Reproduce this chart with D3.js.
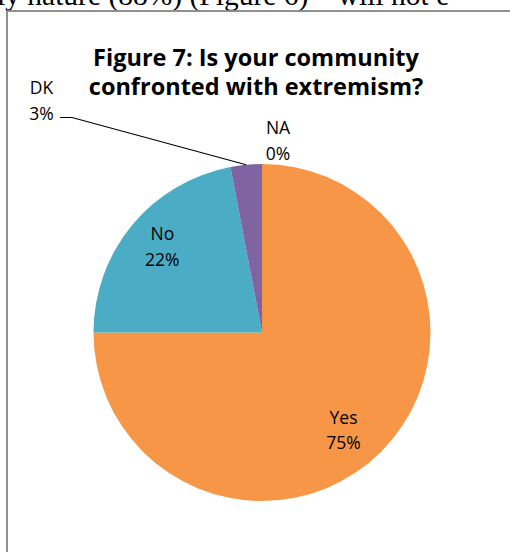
<!DOCTYPE html>
<html>
<head>
<meta charset="utf-8">
<script src="https://cdn.jsdelivr.net/npm/d3@7"></script>
<style>
  html, body { margin: 0; padding: 0; background: #fff; }
  svg { display: block; }
</style>
</head>
<body>
<svg id="chart" width="510" height="552"></svg>
<script>
// Survey answers to "Is your community confronted with extremism?"
const categories = ["Yes", "No", "DK", "NA"];
const shares = [75, 22, 3, 0];
const colors = ["#F79646", "#4BACC6", "#8064A2", "#9BBB59"];
const titleLines = ["Figure 7: Is your community", "confronted with extremism?"];

const svg = d3.select("#chart");

// Running text of the surrounding page, cut off by the top edge
svg.append("text")
  .attr("x", -3).attr("y", 5)
  .attr("font-family", "'Liberation Serif', 'Times New Roman', serif")
  .attr("font-size", 29.5)
  .attr("fill", "#000")
  .text("ly nature (88%) (Figure 6) \u2013 will not e");

// Chart frame
svg.append("rect")
  .attr("x", 7).attr("y", 11)
  .attr("width", 540).attr("height", 580)
  .attr("fill", "#fff")
  .attr("stroke", "#868686")
  .attr("stroke-width", 1.8);

// Title
svg.append("text")
  .attr("text-anchor", "middle")
  .attr("font-family", "'Open Sans', sans-serif")
  .attr("font-weight", "bold")
  .attr("font-size", 23.5)
  .attr("fill", "#000")
  .selectAll("tspan")
  .data(titleLines)
  .join("tspan")
  .attr("x", 256)
  .attr("y", (d, i) => 66 + i * 29)
  .text(d => d);

// Pie
const cx = 262, cy = 332.5, r = 168.5;
const data = categories.map((c, i) => ({ name: c, value: shares[i], color: colors[i] }));
const pie = d3.pie().sort(null).value(d => d.value);
const arcs = pie(data);
const arc = d3.arc().innerRadius(0).outerRadius(r);
const labelArc = d3.arc().innerRadius(r * 0.76).outerRadius(r * 0.76);

const g = svg.append("g").attr("transform", `translate(${cx},${cy})`);
g.selectAll("path.slice")
  .data(arcs.filter(a => a.value > 0))
  .join("path")
  .attr("class", "slice")
  .attr("d", arc)
  .attr("fill", d => d.data.color);

// Labels: name on the first line, percentage on the second
const fmt = v => d3.format(".0f")(v) + "%";
const labelFont = "'Open Sans', sans-serif";
const insideNudge = { Yes: [-9, 7], No: [-1, -4] };

function twoLine(x, y, a) {
  const t = svg.append("text")
    .attr("text-anchor", "middle")
    .attr("font-family", labelFont)
    .attr("font-size", 17.5)
    .attr("fill", "#000");
  t.append("tspan").attr("x", x).attr("y", y - 6.5).text(a.data.name);
  t.append("tspan").attr("x", x).attr("y", y + 19).text(fmt(a.data.value));
}

arcs.forEach(a => {
  const name = a.data.name;
  if (insideNudge[name]) {
    const [lx, ly] = labelArc.centroid(a);
    twoLine(cx + lx + insideNudge[name][0], cy + ly + insideNudge[name][1], a);
  }
});

// DK sits outside the pie with a leader line to its slice
const dk = arcs[categories.indexOf("DK")];
const dkMid = (dk.startAngle + dk.endAngle) / 2;
const edge = [cx + r * Math.sin(dkMid), cy - r * Math.cos(dkMid)];
twoLine(41.5, 100.8, dk);
svg.append("polyline")
  .attr("points", [[60, 117.5], [72, 117.5], edge].map(p => p.join(",")).join(" "))
  .attr("fill", "none")
  .attr("stroke", "#000")
  .attr("stroke-width", 1.2);

// NA has no visible slice; its label sits just above the top of the pie
const na = arcs[categories.indexOf("NA")];
twoLine(278, 140.5, na);
</script>
</body>
</html>
